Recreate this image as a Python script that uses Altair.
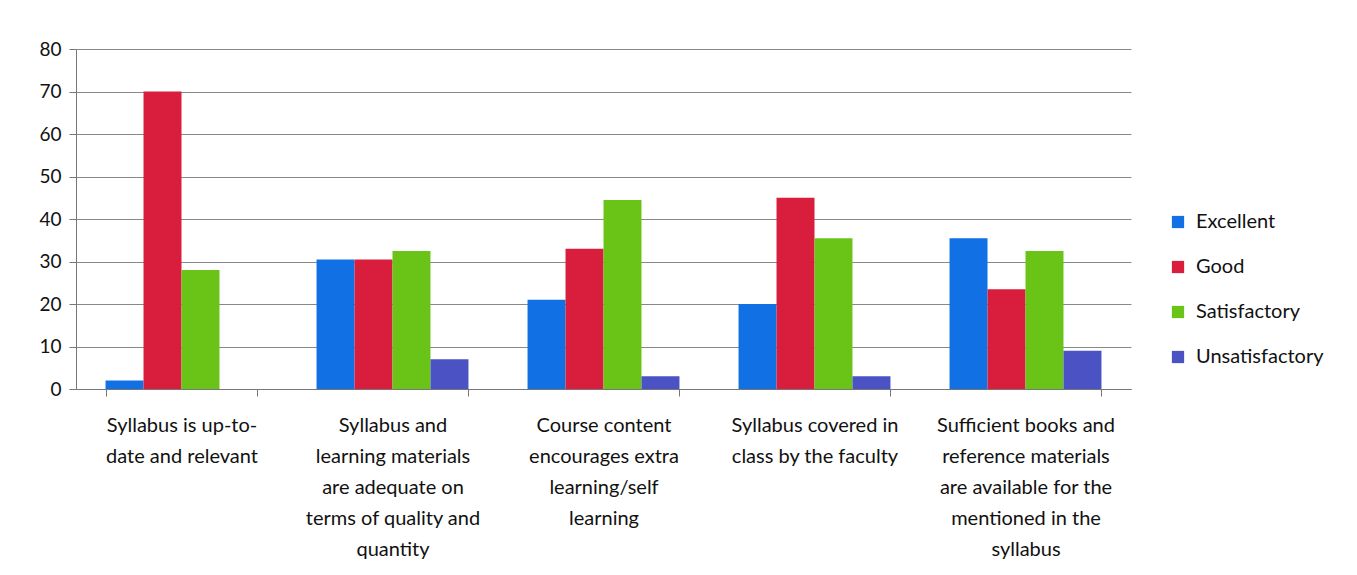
import altair as alt
import pandas as pd

categories = [
    "Syllabus is up-to-|date and relevant",
    "Syllabus and|learning materials|are adequate on|terms of quality and|quantity",
    "Course content|encourages extra|learning/self|learning",
    "Syllabus covered in|class by the faculty",
    "Sufficient books and|reference materials|are available for the|mentioned in the|syllabus",
]
series = ["Excellent", "Good", "Satisfactory", "Unsatisfactory"]
excellent = [2, 30.5, 21, 20, 35.5]
good = [70, 30.5, 33, 45, 23.5]
satisfactory = [28, 32.5, 44.5, 35.5, 32.5]
unsatisfactory = [0, 7, 3, 3, 9]
colors = ["#1170e3", "#d81e3c", "#6ac417", "#4a52c4"]
y_ticks = [0, 10, 20, 30, 40, 50, 60, 70, 80]

rows = []
for s, vals in zip(series, [excellent, good, satisfactory, unsatisfactory]):
    for c, v in zip(categories, vals):
        rows.append({"category": c, "series": s, "value": v})
df = pd.DataFrame(rows)

FONT = "Lato"

chart = alt.Chart(df).mark_bar().encode(
    x=alt.X("category:N", sort=categories, title=None,
            scale=alt.Scale(paddingInner=0.28, paddingOuter=0.14),
            axis=alt.Axis(labelExpr="split(datum.label, '|')", labelAngle=0,
                          labelFontSize=20, labelLineHeight=31, labelColor="#111",
                          labelFont=FONT, labelPadding=19, tickBand="extent",
                          grid=False,
                          tickSize=7, tickColor="#777", domainColor="#777",
                          labelLimit=300)),
    xOffset=alt.XOffset("series:N", sort=series),
    y=alt.Y("value:Q", title=None,
            scale=alt.Scale(domain=[0, 80]),
            axis=alt.Axis(values=y_ticks, labelFontSize=19, labelFont=FONT,
                          labelColor="#111", gridColor="#888", gridWidth=1.2,
                          domainColor="#777", tickColor="#777", tickSize=7,
                          labelPadding=8)),
    color=alt.Color("series:N", sort=series,
                    scale=alt.Scale(domain=series, range=colors),
                    legend=alt.Legend(title=None, orient="none", legendX=1092, legendY=163,
                                      symbolType="square", symbolSize=150,
                                      symbolStrokeWidth=0,
                                      labelFontSize=20, labelFont=FONT, labelColor="#111",
                                      rowPadding=25, labelOffset=8)),
).properties(
    width=1055, height=340,
    background="white",
    padding={"left": 30, "top": 32, "right": 5, "bottom": 5},
).configure_view(stroke=None)

chart.save("out.html", embed_options={"renderer": "svg", "actions": False})
